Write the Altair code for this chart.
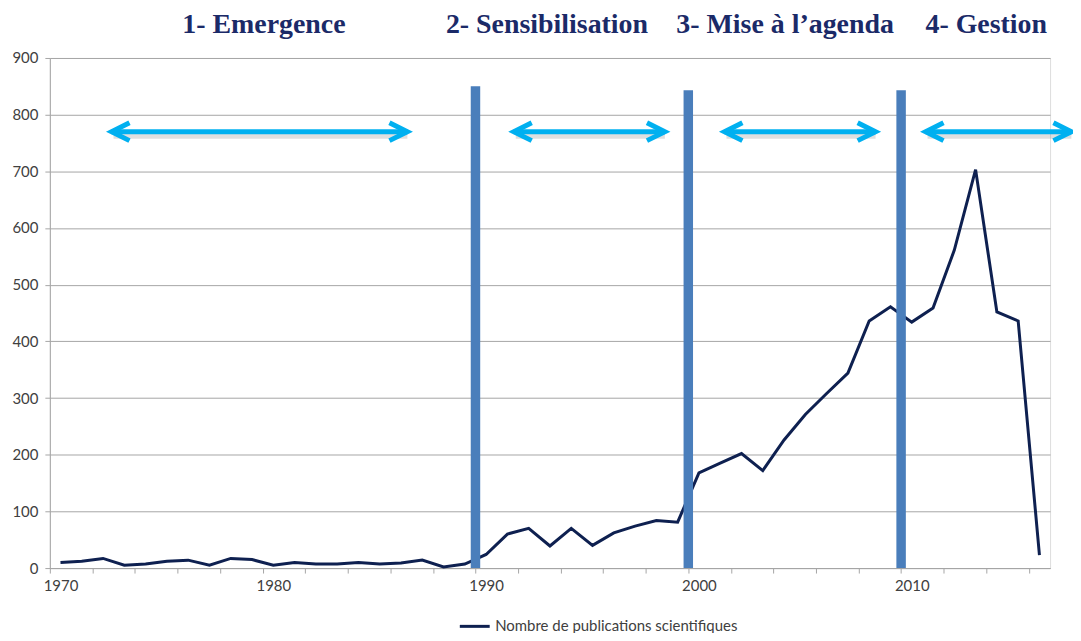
import altair as alt
import pandas as pd

years = list(range(1970, 2017))
publications = [10, 12, 17, 5, 7, 12, 14, 5, 17, 15,
                5, 10, 7, 7, 10, 7, 9, 14, 2, 7,
                24, 60, 70, 39, 70, 40, 62, 74, 84, 81,
                168, 185, 202, 172, 226, 271, 308, 344, 436, 461,
                434, 459, 561, 703, 452, 436, 23]
series_name = "Nombre de publications scientifiques"

phase_labels = ["1- Emergence", "2- Sensibilisation", "3- Mise à l\u2019agenda", "4- Gestion"]
phase_label_x = [1979.56, 1992.86, 2004.05, 2013.5]
phase_label_y = [944, 944, 944, 944]

boundary_x = [1989.5, 1999.5, 2009.5]
boundary_top = [850, 843, 843]

arrow_start = [1972.4, 1991.3, 2001.2, 2010.65]
arrow_end = [1986.3, 1998.4, 2008.3, 2017.5]
arrow_y = [770, 770, 770, 770]

y_ticks = list(range(0, 1000, 100))
x_ticks = [1969.5 + i for i in range(48)]

df_line = pd.DataFrame({"year": years, "value": publications, "serie": [series_name] * len(years)})
df_bound = pd.DataFrame({"x": boundary_x, "y0": [0] * 3, "top": boundary_top})
df_arrow = pd.DataFrame({"x1": arrow_start, "x2": arrow_end, "y": arrow_y})
df_left = pd.DataFrame({"x": arrow_start, "y": arrow_y})
df_right = pd.DataFrame({"x": arrow_end, "y": arrow_y})
df_lab = pd.DataFrame({"x": phase_label_x, "y": phase_label_y, "t": phase_labels})

W, H = 1004, 512
band = W / 47.0
grey = "#A6A6A6"
txt = "#404040"
FONT = "Lato"

xscale = alt.Scale(domain=[1969.5, 2016.5], nice=False, zero=False)
yscale = alt.Scale(domain=[0, 900], nice=False)

xaxis = alt.Axis(values=x_ticks, title=None, grid=False, tickSize=5, tickColor=grey,
                 domainColor=grey, labelColor=txt, labelFont=FONT, labelFontSize=15,
                 labelPadding=6, labelOverlap=False, labelFlush=False, labelOffset=band / 2,
                 labelExpr="((datum.value - 0.5) % 10 == 9) ? format(datum.value + 0.5, 'd') : ''")
yaxis = alt.Axis(values=y_ticks, title=None, grid=True, gridColor=grey, tickSize=5,
                 tickColor=grey, domainColor=grey, labelColor=txt, labelFont=FONT,
                 labelFontSize=15, labelPadding=7, labelFlush=False)

line = alt.Chart(df_line).mark_line(strokeWidth=3).encode(
    x=alt.X("year:Q", scale=xscale, axis=xaxis),
    y=alt.Y("value:Q", scale=yscale, axis=yaxis),
    color=alt.Color("serie:N",
                    scale=alt.Scale(domain=[series_name], range=["#0E2050"]),
                    legend=alt.Legend(title=None, orient="none", legendX=410, legendY=554,
                                      symbolType="stroke", symbolSize=900, symbolStrokeWidth=3,
                                      labelFont=FONT, labelFontSize=15, labelColor=txt,
                                      labelOffset=4, labelLimit=0, padding=0)),
)

bounds = alt.Chart(df_bound).mark_rule(strokeWidth=9.5, color="#4A7EBB", strokeCap="butt").encode(
    x="x:Q", y="y0:Q", y2="top:Q"
)

shadow = alt.Chart(df_arrow).mark_rule(strokeWidth=6, color="#808080", opacity=0.25,
                                       xOffset=2, yOffset=4).encode(
    x="x1:Q", x2="x2:Q", y="y:Q"
)
arrows = alt.Chart(df_arrow).mark_rule(strokeWidth=5, color="#00B0F0").encode(
    x="x1:Q", x2="x2:Q", y="y:Q"
)
left_head = alt.Chart(df_left).mark_point(shape="M1,-0.5L0,0L1,0.5", size=1296, filled=False,
                                          strokeWidth=5, color="#00B0F0", opacity=1,
                                          strokeJoin="miter").encode(x="x:Q", y="y:Q")
right_head = alt.Chart(df_right).mark_point(shape="M-1,-0.5L0,0L-1,0.5", size=1296, filled=False,
                                            strokeWidth=5, color="#00B0F0", opacity=1,
                                            strokeJoin="miter").encode(x="x:Q", y="y:Q")

labels = alt.Chart(df_lab).mark_text(font="Liberation Serif", fontWeight="bold", fontSize=28,
                                     color="#1B2A68", baseline="alphabetic", align="center").encode(
    x="x:Q", y="y:Q", text="t:N"
)

chart = alt.layer(line, bounds, shadow, arrows, left_head, right_head, labels).properties(
    width=W, height=H,
    padding={"left": 42, "top": 49, "right": 23, "bottom": 64},
    autosize=alt.AutoSizeParams(type="none"),
).configure_view(stroke=None).configure(background="white")

chart.save("out.html", embed_options={"renderer": "svg", "actions": False})
